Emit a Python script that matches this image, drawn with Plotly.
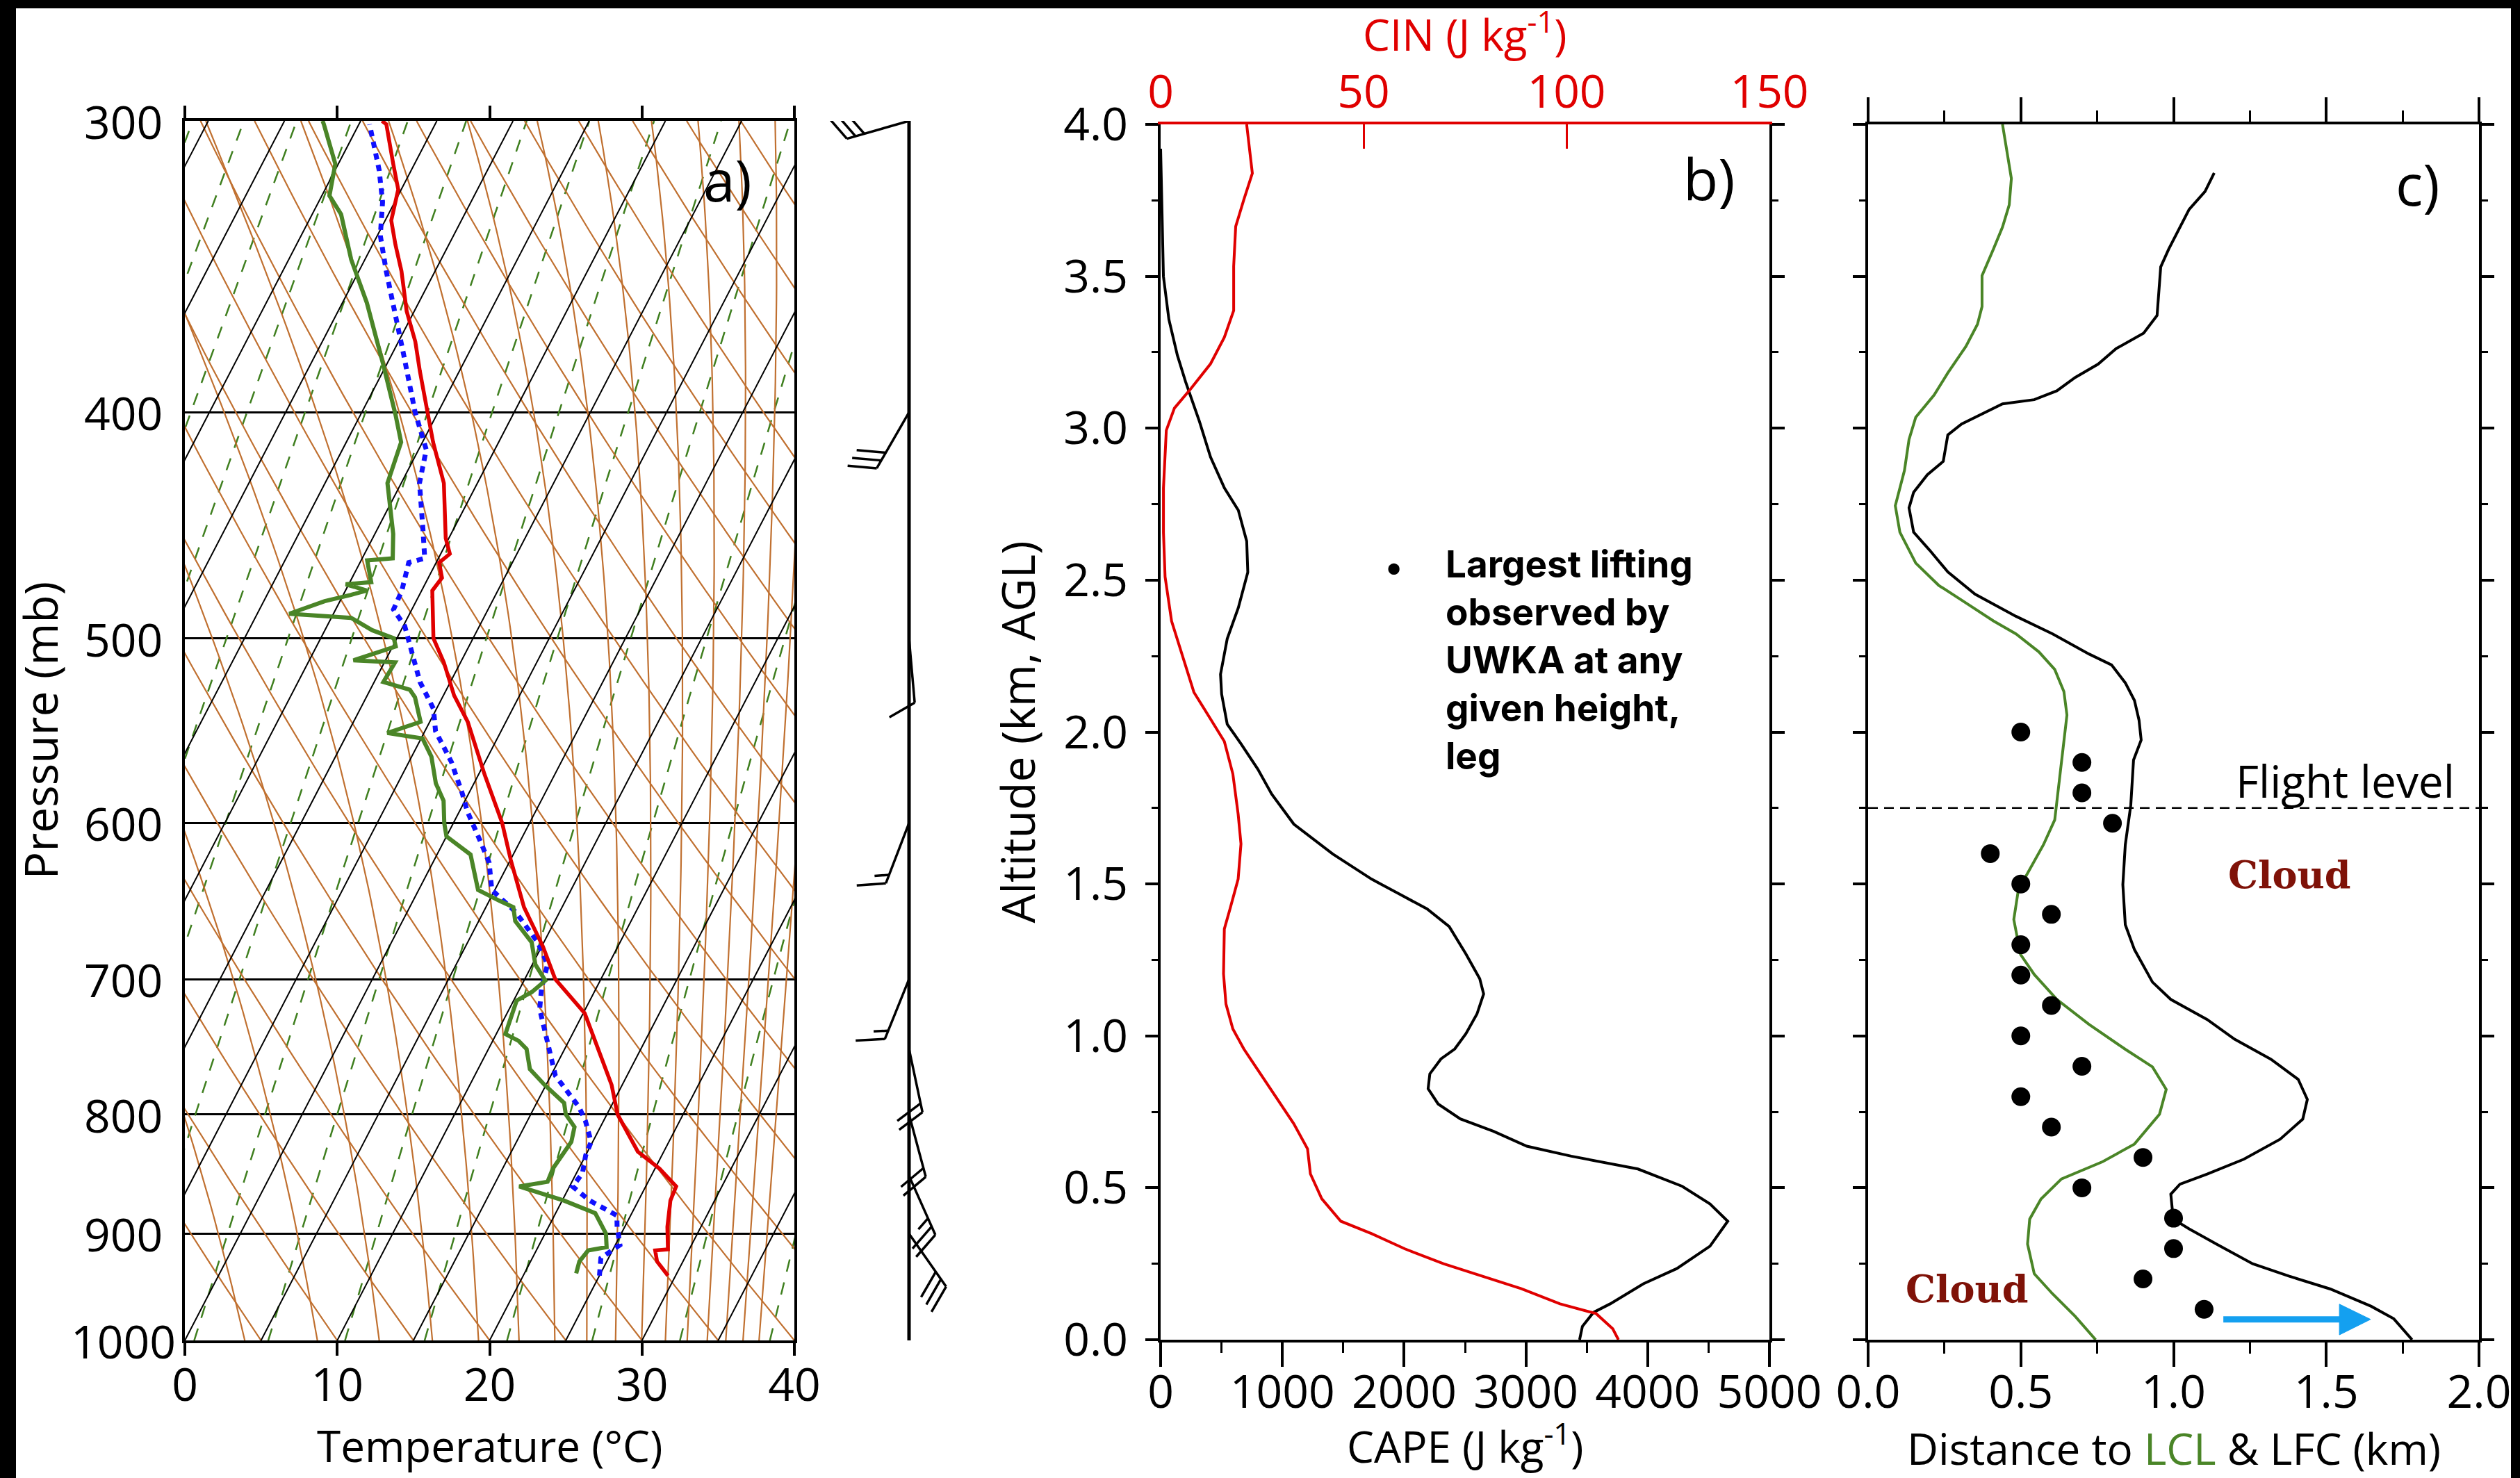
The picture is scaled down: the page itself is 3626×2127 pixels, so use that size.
import numpy as np
import plotly.graph_objects as go

W, H = 3626, 2127

# ---------------- panel a: sounding (pressure hPa, temperature degC) ----------------
T_p = [938, 925, 915, 914, 894, 871, 859, 844, 830, 800, 777, 744, 724, 700, 678, 652, 622, 600,
       572, 543, 529, 512, 500, 477, 471, 464, 460, 453, 429, 412, 400, 384, 373, 362, 348, 339,
       331, 321, 313, 301, 300]
T_c = [29.5, 28.3, 27.8, 28.6, 27.8, 27.1, 27.0, 25.3, 23.3, 20.7, 19.3, 16.7, 15.1, 12.0, 10.1, 7.5,
       5.0, 3.2, 0.4, -2.5, -4.3, -6.1, -7.6, -9.3, -9.1, -9.8, -9.4, -10.2, -12.2, -14.3, -15.7,
       -17.6, -18.9, -20.5, -22.2, -23.5, -24.6, -25.2, -26.4, -28.2, -28.6]

Td_p = [936, 925, 915, 912, 900, 882, 871, 859, 855, 844, 822, 810, 800, 791, 777, 765, 750, 744,
        739, 728, 715, 709, 701, 690, 675, 661, 652, 648, 641, 619, 608, 600, 587, 577, 562, 552,
        549, 543, 530, 526, 522, 512, 511, 504, 500, 496, 490, 488, 482, 479, 477, 474, 473, 463,
        462, 451, 429, 412, 401, 381, 359, 344, 329, 323, 313, 301, 300]
Td_c = [23.4, 23.2, 23.4, 24.5, 24.0, 22.6, 20.1, 16.7, 18.4, 18.3, 18.6, 18.3, 17.3, 16.8, 14.9,
        13.4, 12.5, 11.7, 10.6, 10.4, 10.2, 10.9, 11.4, 10.2, 9.2, 7.4, 6.8, 5.7, 3.9, 2.2, 0.0,
        -0.6, -1.4, -2.5, -3.7, -4.9, -7.4, -5.6, -6.8, -7.4, -9.4, -9.3, -12.1, -9.8, -10.2, -11.9,
        -13.7, -17.9, -16.0, -14.5, -13.6, -15.2, -13.6, -14.6, -13.0, -13.8, -15.9, -16.4, -17.7,
        -20.3, -23.4, -25.9, -28.1, -29.5, -30.2, -32.3, -32.5]

Tb_p = [938, 922, 910, 894, 884, 871, 859, 848, 833, 822, 805, 794, 770, 744, 721, 706, 690, 675,
        655, 641, 624, 611, 593, 583, 575, 565, 548, 536, 522, 506, 494, 486, 477, 464, 462, 449,
        429, 415, 407, 400, 378, 365, 348, 336, 325, 315, 307, 301]
Tb_c = [25.0, 24.5, 25.3, 24.5, 24.1, 21.8, 20.2, 20.4, 20.0, 19.9, 18.8, 17.9, 15.3, 13.6, 12.0,
        11.4, 11.0, 9.6, 7.1, 4.8, 3.7, 2.4, 0.5, -0.4, -1.2, -2.2, -4.3, -5.2, -7.0, -8.6, -9.9,
        -11.2, -11.3, -11.8, -10.9, -12.0, -13.8, -14.5, -15.6, -16.5, -19.2, -20.9, -23.2, -24.8,
        -25.8, -27.1, -28.3, -29.3]

# winds (hPa, direction deg, speed kt)
wind_p = [300, 400, 500, 600, 700, 750, 800, 850, 900]
wind_dir = [254, 210, 175, 201, 202, 168, 165, 156, 145]
wind_kt = [30, 30, 10, 15, 15, 20, 20, 25, 30]

temp_ticks = [0, 10, 20, 30, 40]
p_ticks = [300, 400, 500, 600, 700, 800, 900, 1000]

# ---------------- panel b ----------------
cape_alt = [3.92, 3.50, 3.358, 3.241, 3.153, 3.022, 2.905, 2.803, 2.730, 2.628, 2.526, 2.409, 2.307,
            2.190, 2.125, 2.026, 1.961, 1.878, 1.796, 1.697, 1.599, 1.516, 1.467, 1.418, 1.360,
            1.270, 1.188, 1.138, 1.072, 1.007, 0.957, 0.924, 0.875, 0.826, 0.776, 0.727, 0.686,
            0.637, 0.604, 0.562, 0.505, 0.447, 0.390, 0.308, 0.234, 0.184, 0.118, 0.090, 0.044, 0.0]
cape = [0, 23, 68, 137, 205, 319, 410, 524, 638, 707, 716, 638, 547, 492, 501, 547, 661, 798, 912,
        1094, 1413, 1732, 1960, 2188, 2370, 2507, 2621, 2653, 2598, 2507, 2416, 2302, 2211, 2197,
        2279, 2461, 2735, 3008, 3373, 3920, 4284, 4512, 4658, 4512, 4239, 3965, 3692, 3555, 3464,
        3441]
cin_alt = [4.0, 3.839, 3.752, 3.664, 3.533, 3.387, 3.299, 3.212, 3.131, 3.066, 2.993, 2.803, 2.657,
           2.511, 2.365, 2.248, 2.131, 2.043, 1.969, 1.862, 1.730, 1.632, 1.516, 1.418, 1.352,
           1.204, 1.105, 1.023, 0.957, 0.875, 0.793, 0.711, 0.628, 0.546, 0.464, 0.390, 0.349,
           0.299, 0.250, 0.209, 0.168, 0.118, 0.094, 0.086, 0.036, 0.0]
cin = [21.2, 22.6, 20.5, 18.5, 18.0, 18.0, 15.7, 12.3, 7.5, 3.4, 1.4, 0.7, 0.7, 1.1, 2.7, 5.5, 8.2,
       12.3, 15.7, 17.8, 19.1, 19.8, 19.1, 17.1, 15.7, 15.5, 16.1, 17.8, 20.5, 24.6, 28.7, 32.8,
       36.2, 36.9, 39.7, 44.4, 52.0, 60.2, 69.7, 79.3, 88.9, 98.4, 105.3, 107.3, 111.4, 112.8]

# ---------------- panel c ----------------
lcl_alt = [4.0, 3.91, 3.822, 3.735, 3.662, 3.589, 3.502, 3.400, 3.342, 3.269, 3.182, 3.109, 3.036,
           2.963, 2.861, 2.745, 2.658, 2.556, 2.483, 2.425, 2.366, 2.323, 2.264, 2.206, 2.133,
           2.056, 1.908, 1.760, 1.711, 1.629, 1.547, 1.481, 1.383, 1.268, 1.202, 1.120, 1.038,
           0.956, 0.898, 0.824, 0.742, 0.644, 0.586, 0.529, 0.463, 0.397, 0.315, 0.217, 0.151,
           0.077, 0.0]
lcl = [0.440, 0.455, 0.469, 0.462, 0.440, 0.410, 0.373, 0.373, 0.358, 0.320, 0.261, 0.216, 0.156,
       0.134, 0.119, 0.089, 0.104, 0.156, 0.231, 0.320, 0.410, 0.484, 0.559, 0.611, 0.641, 0.651,
       0.633, 0.615, 0.611, 0.574, 0.529, 0.492, 0.477, 0.499, 0.544, 0.618, 0.723, 0.842, 0.931,
       0.976, 0.954, 0.872, 0.768, 0.633, 0.566, 0.529, 0.522, 0.544, 0.604, 0.678, 0.745]
lfc_alt = [3.840, 3.779, 3.720, 3.662, 3.589, 3.531, 3.371, 3.313, 3.262, 3.211, 3.167, 3.123, 3.094,
           3.080, 3.043, 3.014, 2.978, 2.891, 2.847, 2.789, 2.738, 2.658, 2.599, 2.527, 2.454,
           2.381, 2.323, 2.257, 2.221, 2.162, 2.104, 2.039, 1.974, 1.908, 1.760, 1.629, 1.498,
           1.366, 1.284, 1.177, 1.120, 1.054, 0.989, 0.923, 0.857, 0.791, 0.726, 0.660, 0.594,
           0.545, 0.512, 0.479, 0.397, 0.365, 0.315, 0.250, 0.209, 0.167, 0.110, 0.069, 0.0]
lfc = [1.133, 1.103, 1.051, 1.021, 0.984, 0.958, 0.946, 0.902, 0.812, 0.753, 0.678, 0.618, 0.544,
       0.440, 0.365, 0.306, 0.261, 0.246, 0.194, 0.149, 0.134, 0.149, 0.201, 0.261, 0.350, 0.484,
       0.604, 0.723, 0.797, 0.842, 0.872, 0.887, 0.894, 0.869, 0.860, 0.842, 0.834, 0.842, 0.872,
       0.931, 0.991, 1.110, 1.200, 1.319, 1.408, 1.438, 1.423, 1.349, 1.230, 1.110, 1.021, 0.991,
       0.999, 1.051, 1.140, 1.259, 1.379, 1.513, 1.647, 1.721, 1.781]
lift_alt = [2.0, 1.9, 1.8, 1.7, 1.6, 1.5, 1.4, 1.3, 1.2, 1.1, 1.0, 0.9, 0.8, 0.7, 0.6, 0.5, 0.4, 0.3, 0.2, 0.1]
lift_dist = [0.5, 0.7, 0.7, 0.8, 0.4, 0.5, 0.6, 0.5, 0.5, 0.6, 0.5, 0.7, 0.5, 0.6, 0.9, 0.7, 1.0, 1.0, 0.9, 1.1]
flight_level = 1.75

# ---------------- layout geometry (pixels) ----------------
A_X0, A_X1, A_Y0, A_Y1 = 266, 1143, 174, 1929
B_X0, B_X1 = 1670, 2546
C_X0, C_X1 = 2688, 3567
BC_Y0, BC_Y1 = 179, 1928
BARB_X0, BARB_X1, STAFF_X = 1150, 1460, 1308

def xdom(a, b):
    return [a / W, b / W]

def ydom(top, bottom):
    return [1 - bottom / H, 1 - top / H]

FONT = "Open Sans"
RED = "#e00000"
GREEN = "#4a8527"
BROWN = "#c07030"
DGREEN = "#3f7f1f"

SKEW = 34.5

def skx(T, p):
    return np.asarray(T, float) + SKEW * np.log(1000.0 / np.asarray(p, float))

def joined(pairs):
    xs, ys = [], []
    for x, y in pairs:
        xs += list(x) + [None]
        ys += list(y) + [None]
    return xs, ys

pp = np.geomspace(1000, 300, 90)

iso = [(skx([t, t], [1000, 300]), [1000, 300]) for t in range(-50, 45, 5)]
dry = []
for th in range(0, 130, 5):
    T = (th + 273.15) * (pp / 1000.0) ** 0.2857 - 273.15
    dry.append((skx(T, pp), pp))

def moist_T(theta_e, p):
    lo = np.full_like(p, 150.0)
    hi = np.full_like(p, 330.0)
    for _ in range(60):
        mid = 0.5 * (lo + hi)
        es = 6.112 * np.exp(17.67 * (mid - 273.15) / (mid - 29.65))
        rs = 0.622 * es / (p - es)
        te = mid * (1000.0 / p) ** 0.2857 * np.exp(2.5e6 * rs / (1005.0 * mid))
        hi = np.where(te > theta_e, mid, hi)
        lo = np.where(te > theta_e, lo, mid)
    return 0.5 * (lo + hi) - 273.15

moist = [(skx(moist_T(te, pp), pp), pp) for te in range(280, 450, 10)]
mix = []
for w in 2.0 ** np.arange(-3, 6.01, 0.5):
    e = w * pp / (622.0 + w)
    Lg = np.log(e / 6.112)
    T = 243.5 * Lg / (17.67 - Lg)
    mix.append((skx(T, pp), pp))

fig = go.Figure()

for fam, col, wd, dash in [(mix, DGREEN, 2.5, "18px,16px"), (dry, BROWN, 2.2, "solid"),
                           (moist, BROWN, 2.2, "solid"), (iso, "black", 2.0, "solid")]:
    xs, ys = joined(fam)
    fig.add_trace(go.Scatter(x=xs, y=ys, mode="lines", xaxis="x", yaxis="y",
                             line=dict(color=col, width=wd, dash=dash), hoverinfo="skip",
                             showlegend=False))

fig.add_trace(go.Scatter(x=skx(Tb_c, Tb_p), y=Tb_p, mode="lines", xaxis="x", yaxis="y",
                         line=dict(color="#1010ff", width=7, dash="9px,8px"), showlegend=False))
fig.add_trace(go.Scatter(x=skx(Td_c, Td_p), y=Td_p, mode="lines", xaxis="x", yaxis="y",
                         line=dict(color=GREEN, width=6), showlegend=False))
fig.add_trace(go.Scatter(x=skx(T_c, T_p), y=T_p, mode="lines", xaxis="x", yaxis="y",
                         line=dict(color=RED, width=5.5), showlegend=False))

def ypx(p):
    return A_Y1 - (A_Y1 - A_Y0) * np.log(1000.0 / p) / np.log(1000.0 / 300.0)

L_SHAFT, L_FEATH, SPACING = 93.0, 42.0, 13.0
bx, by = [], []
for p, d, s in zip(wind_p, wind_dir, wind_kt):
    x0, y0 = STAFF_X, ypx(p)
    phi = np.arctan2(np.cos(np.radians(d)), np.sin(np.radians(d)))
    bx += [x0, x0 + L_SHAFT * np.cos(phi), None]
    by += [y0, y0 - L_SHAFT * np.sin(phi), None]
    fa = phi - np.radians(65)
    lens = [L_FEATH] * int(s // 10) + ([L_FEATH / 2] if s % 10 >= 5 else [])
    for i, fl in enumerate(lens):
        r = L_SHAFT - i * SPACING
        sx, sy = x0 + r * np.cos(phi), y0 - r * np.sin(phi)
        bx += [sx, sx + fl * np.cos(fa), None]
        by += [sy, sy - fl * np.sin(fa), None]
fig.add_trace(go.Scatter(x=bx, y=by, mode="lines", xaxis="x2", yaxis="y2",
                         line=dict(color="black", width=3.5), showlegend=False))
fig.add_trace(go.Scatter(x=[STAFF_X, STAFF_X], y=[ypx(300), ypx(1000)], mode="lines",
                         xaxis="x2", yaxis="y2", line=dict(color="black", width=5),
                         showlegend=False))

fig.add_trace(go.Scatter(x=cape, y=cape_alt, mode="lines", xaxis="x3", yaxis="y3",
                         line=dict(color="black", width=4), showlegend=False))
fig.add_trace(go.Scatter(x=cin, y=cin_alt, mode="lines", xaxis="x4", yaxis="y3",
                         line=dict(color=RED, width=4), showlegend=False))

fig.add_trace(go.Scatter(x=lcl, y=lcl_alt, mode="lines", xaxis="x5", yaxis="y5",
                         line=dict(color=GREEN, width=4), showlegend=False))
fig.add_trace(go.Scatter(x=lfc, y=lfc_alt, mode="lines", xaxis="x5", yaxis="y5",
                         line=dict(color="black", width=4), showlegend=False))
fig.add_trace(go.Scatter(x=lift_dist, y=lift_alt, mode="markers", xaxis="x5", yaxis="y5",
                         marker=dict(color="black", size=27), showlegend=False))

tickfont = dict(family=FONT, size=66, color="black")
ax_common = dict(showgrid=False, zeroline=False, showline=True, linecolor="black", linewidth=3.5,
                 tickcolor="black", tickwidth=3.5, tickfont=tickfont, automargin=False)

fig.update_layout(
    width=W, height=H, margin=dict(l=0, r=0, t=0, b=0, pad=0, autoexpand=False),
    paper_bgcolor="white", plot_bgcolor="white", showlegend=False,
    xaxis=dict(domain=xdom(A_X0, A_X1), range=[0, 40], tickvals=temp_ticks, ticks="outside",
               ticklen=18, mirror="ticks", anchor="y", ticklabelstandoff=-14, **ax_common),
    yaxis=dict(domain=ydom(A_Y0, A_Y1), type="log", range=[3, np.log10(300)], tickvals=p_ticks,
               showticklabels=False, ticks="", mirror=True, anchor="x",
               **{**ax_common, "showgrid": True}, gridcolor="black", gridwidth=3),
    xaxis2=dict(domain=xdom(BARB_X0, BARB_X1), range=[BARB_X0, BARB_X1], visible=False,
                anchor="y2", automargin=False),
    yaxis2=dict(domain=ydom(A_Y0, A_Y1), range=[A_Y1, A_Y0], visible=False, anchor="x2",
                automargin=False),
    xaxis3=dict(domain=xdom(B_X0, B_X1), range=[0, 5000], dtick=1000, ticks="outside",
                ticklen=35, anchor="y3", ticklabelstandoff=-20,
                minor=dict(dtick=500, ticklen=15, ticks="outside", tickcolor="black", tickwidth=3),
                **ax_common),
    xaxis4=dict(range=[0, 150], dtick=50, overlaying="x3", side="top", anchor="y3",
                ticks="inside", ticklen=35, showgrid=False, zeroline=False, showline=True,
                linecolor=RED, linewidth=3.5, tickcolor=RED, tickwidth=3, automargin=False,
                tickfont=dict(family=FONT, size=66, color=RED), ticklabelstandoff=-6),
    yaxis3=dict(domain=ydom(BC_Y0, BC_Y1), range=[0, 4], dtick=0.5, tickformat=".1f",
                ticks="outside", ticklen=18, mirror="ticks", anchor="x3", ticklabelstandoff=12,
                minor=dict(dtick=0.25, ticklen=9, ticks="outside", tickcolor="black", tickwidth=3),
                **ax_common),
    xaxis5=dict(domain=xdom(C_X0, C_X1), range=[0, 2], dtick=0.5, tickformat=".1f",
                ticks="outside", ticklen=35, mirror="ticks", anchor="y5", ticklabelstandoff=-20,
                minor=dict(dtick=0.25, ticklen=16, ticks="outside", tickcolor="black", tickwidth=3),
                **ax_common),
    yaxis5=dict(domain=ydom(BC_Y0, BC_Y1), range=[0, 4], dtick=0.5, showticklabels=False,
                ticks="outside", ticklen=18, mirror="ticks", anchor="x5",
                minor=dict(dtick=0.25, ticklen=9, ticks="outside", tickcolor="black", tickwidth=3),
                **ax_common),
)

def ann(xpx, ypx_, text, size=66, color="black", family=FONT, angle=0, xanchor="center",
        yanchor="middle", align="center"):
    fig.add_annotation(x=xpx / W, y=1 - ypx_ / H, xref="paper", yref="paper", text=text,
                       showarrow=False, textangle=angle, xanchor=xanchor, yanchor=yanchor,
                       align=align, font=dict(family=family, size=size, color=color))

for p in p_ticks:
    fig.add_annotation(x=177 / W, y=np.log10(p), xref="paper", yref="y", text=str(p),
                       showarrow=False, font=tickfont, xanchor="center", yanchor="middle")

ann(56, (A_Y0 + A_Y1) / 2, "Pressure (mb)", angle=-90)
ann((A_X0 + A_X1) / 2, 2080, "Temperature (°C)", size=62)
ann(1462, (BC_Y0 + BC_Y1) / 2, "Altitude (km, AGL)", angle=-90)
ann((B_X0 + B_X1) / 2, 2078, "CAPE (J kg<sup>-1</sup>)", size=62)
ann((B_X0 + B_X1) / 2, 46, "CIN (J kg<sup>-1</sup>)", color=RED, size=62)
ann((C_X0 + C_X1) / 2, 2084,
    "Distance to <span style='color:%s'>LCL</span> &amp; LFC (km)" % GREEN, size=62)
ann(1047, 258, "a)", size=82)
ann(2459, 256, "b)", size=82)
ann(3478, 264, "c)", size=82)

ann(2006, 815, "•", size=52, family="Inter")
ann(2078, 778, "<b>Largest lifting<br>observed by<br>UWKA at any<br>given height,<br>leg</b>",
    size=53, family="Inter", xanchor="left", yanchor="top", align="left")

fig.add_shape(type="line", xref="x5", yref="y5", x0=0, x1=2, y0=flight_level, y1=flight_level,
              line=dict(color="black", width=2.5, dash="14px,9px"))
fig.add_annotation(x=1.925, y=flight_level, xref="x5", yref="y5", text="Flight level",
                   showarrow=False, xanchor="right", yanchor="bottom", yshift=-6,
                   font=dict(family=FONT, size=64, color="black"))
CLOUD = dict(family="DejaVu Serif", size=54, color="#7f1208")
fig.add_annotation(x=1.381, y=1.531, xref="x5", yref="y5", text="<b>Cloud</b>", showarrow=False,
                   font=CLOUD)
fig.add_annotation(x=0.325, y=0.167, xref="x5", yref="y5", text="<b>Cloud</b>", showarrow=False,
                   font=CLOUD)
ARROW = "#14a0f0"
fig.add_shape(type="line", xref="x5", yref="y5", x0=1.163, x1=1.56, y0=0.067, y1=0.067,
              line=dict(color=ARROW, width=9))
fig.add_shape(type="path", xref="x5", yref="y5", path="M 1.543 0.117 L 1.645 0.067 L 1.543 0.016 Z",
              fillcolor=ARROW, line=dict(color=ARROW, width=1))

for x0, x1, y0, y1 in [(0, W, 0, 12), (0, 23, 0, H), (3613, W, 0, H)]:
    fig.add_shape(type="rect", xref="paper", yref="paper", x0=x0 / W, x1=x1 / W,
                  y0=1 - y1 / H, y1=1 - y0 / H, fillcolor="black", line=dict(width=0),
                  layer="above")

fig.write_html("out.html")
